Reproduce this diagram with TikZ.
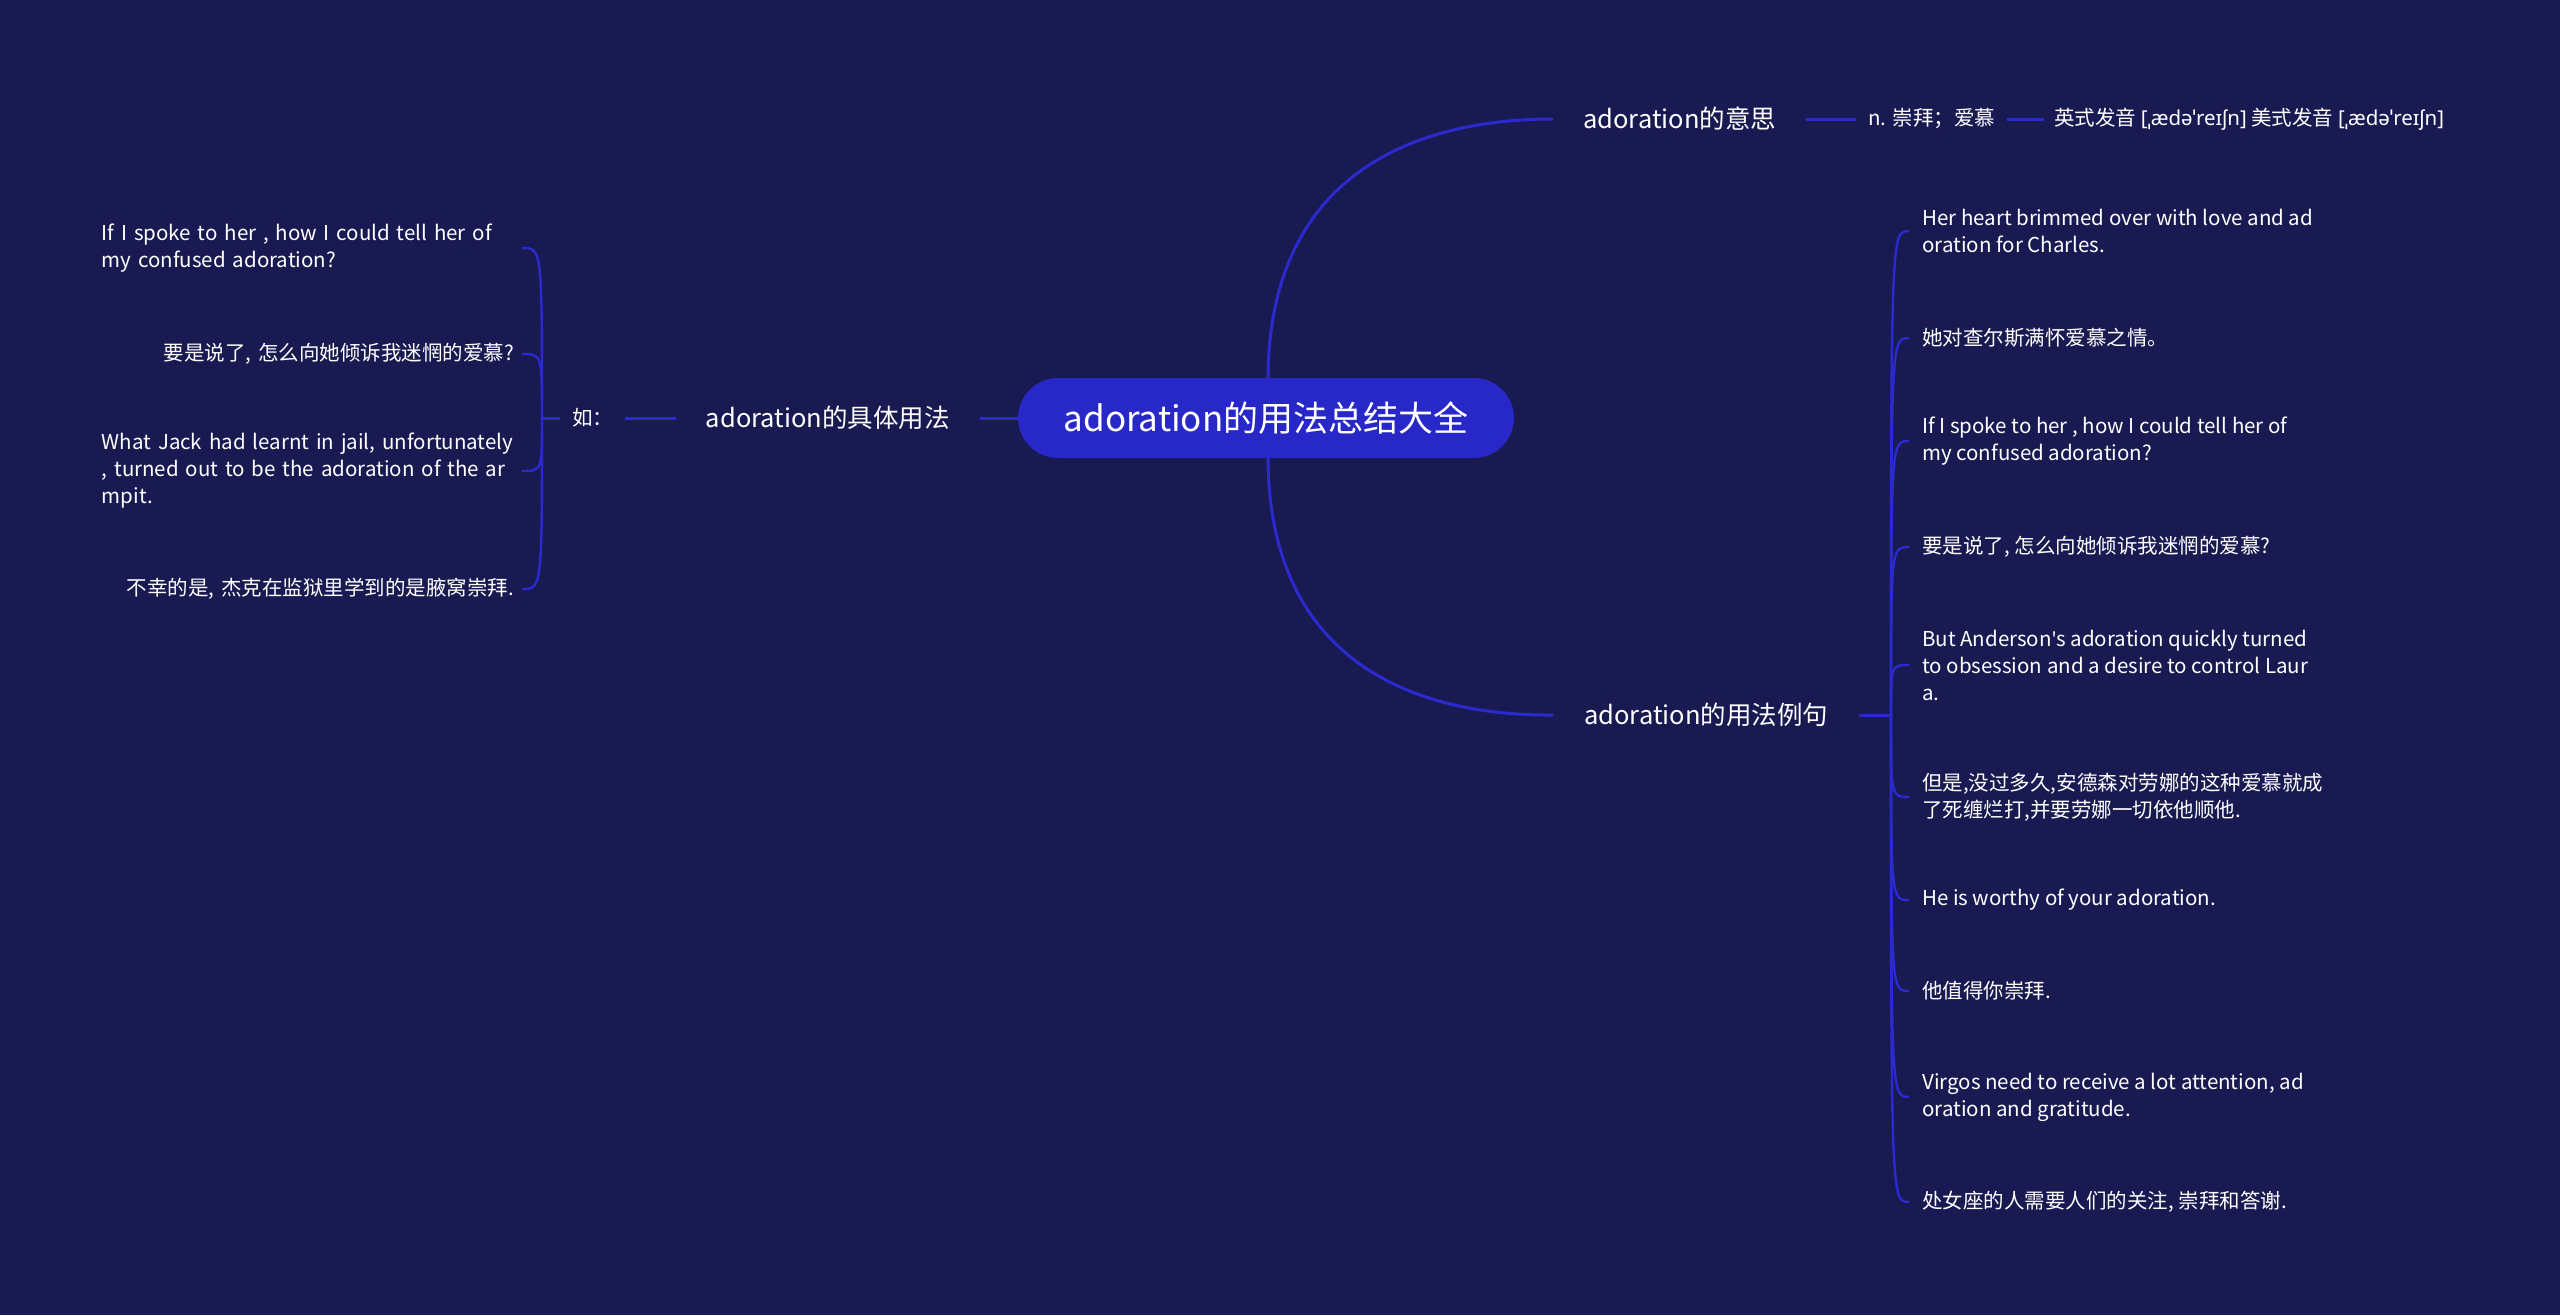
\documentclass[tikz,border=0pt]{standalone}
\usepackage{fontspec}
\setmainfont{Noto Sans CJK SC}
\newfontfamily\ipa{Noto Sans}
\definecolor{bgc}{RGB}{26,26,82}
\definecolor{linec}{RGB}{42,42,206}
\definecolor{rootc}{RGB}{40,40,200}
\begin{document}
\begin{tikzpicture}[x=1pt,y=-1pt,
  rootnode/.style={fill=rootc, rounded corners=40pt, minimum height=80pt, minimum width=496pt, inner sep=0pt, text=white, font=\fontsize{35}{40}\selectfont},
  branchnode/.style={text=white, inner ysep=0pt, inner xsep=30pt, font=\fontsize{25.5}{30}\selectfont},
  leafnode/.style={text=white, inner ysep=0pt, inner xsep=12pt, font=\fontsize{20.5}{27}\selectfont},
  rleaf/.style={leafnode, align=left, inner xsep=13pt, anchor=west},
  lleaf/.style={leafnode, inner xsep=8pt, text width=412pt, anchor=east},
  conn/.style={draw=linec, line width=3pt},
  leafconn/.style={draw=linec, line width=2.4pt}]
\fill[bgc] (0,0) rectangle (2560,1315);

\coordinate (rtop) at (1268,380);
\coordinate (rbot) at (1268,456);

% right branches
\node[branchnode, anchor=west] (b1) at (1553,119) {adoration的意思};
\node[leafnode, anchor=west] (m1) at (1856,119) {n. 崇拜；爱慕};
\node[leafnode, anchor=west, inner xsep=10pt] (m2) at (2044,119) {英式发音 {\ipa [ˌædəˈreɪʃn]} 美式发音 {\ipa [ˌædəˈreɪʃn]}};
\node[branchnode, anchor=west, inner xsep=31pt] (b2) at (1553,715) {adoration的用法例句};
\coordinate (jr) at (1891,715);

\draw[conn] (rtop) .. controls (1268,170) and (1420,119) .. (b1.west);
\draw[conn] (rbot) .. controls (1268,666) and (1420,716) .. (b2.west);

% central node
\node[rootnode] (root) at (1266,418) {adoration的用法总结大全};

% left branch
\node[branchnode, anchor=east] (lb) at (980,418) {adoration的具体用法};
\node[leafnode, anchor=west] (ru) at (560,418) {如：};
\coordinate (jl) at (542,418);

\draw[conn] (root.west) -- (lb.east);
\draw[conn] (lb.west) -- (ru.east);
\draw[conn] (ru.west) -- (jl);
\draw[conn] (b1.east) -- (m1.west);
\draw[conn] (m1.east) -- (m2.west);
\draw[conn] (b2.east) -- (jr);

% right leaves
\node[rleaf] (r1) at (1909,231) {Her heart brimmed over with love and ad\\oration for Charles.};
\node[rleaf] (r2) at (1909,338) {她对查尔斯满怀爱慕之情。};
\node[rleaf] (r3) at (1909,441) {If I spoke to her , how I could tell her of\\my confused adoration?};
\node[rleaf] (r4) at (1909,547) {要是说了, 怎么向她倾诉我迷惘的爱慕?};
\node[rleaf] (r5) at (1909,665) {But Anderson{\ipa'}s adoration quickly turned\\to obsession and a desire to control Laur\\a.};
\node[rleaf] (r6) at (1909,797) {但是,没过多久,安德森对劳娜的这种爱慕就成\\了死缠烂打,并要劳娜一切依他顺他.};
\node[rleaf] (r7) at (1909,900) {He is worthy of your adoration.};
\node[rleaf] (r8) at (1909,991) {他值得你崇拜.};
\node[rleaf] (r9) at (1909,1097) {Virgos need to receive a lot attention, ad\\oration and gratitude.};
\node[rleaf] (r10) at (1909,1202) {处女座的人需要人们的关注, 崇拜和答谢.};

\foreach \n/\yy in {r1/231,r2/338,r3/441,r4/547,r5/665,r6/797,r7/900,r8/991,r9/1097,r10/1202}{
  \draw[leafconn] (jr) .. controls (1891,\yy) .. (\n.west);
}

% left leaves
\node[lleaf, align=left] (l1) at (522,248) {If I spoke to her , how I could tell her of\\my confused adoration?};
\node[lleaf, align=right] (l2) at (522,354) {要是说了, 怎么向她倾诉我迷惘的爱慕?};
\node[lleaf, align=left] (l3) at (522,471) {What Jack had learnt in jail, unfortunately\\, turned out to be the adoration of the ar\\mpit.};
\node[lleaf, align=right] (l4) at (522,589) {不幸的是, 杰克在监狱里学到的是腋窝崇拜.};

\foreach \n/\yy in {l1/248,l2/354,l3/471,l4/589}{
  \draw[leafconn] (jl) .. controls (542,\yy) .. (\n.east);
}
\end{tikzpicture}
\end{document}
